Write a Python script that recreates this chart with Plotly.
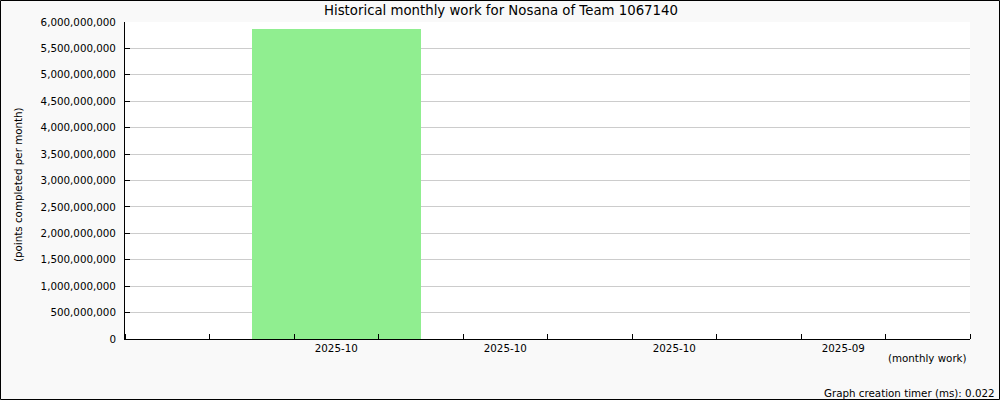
import plotly.graph_objects as go

months = ["2025-10", "2025-10", "2025-10", "2025-09"]
points = [5860000000, 0, 0, 0]
y_ticks = list(range(0, 6000000001, 500000000))

positions = list(range(len(months)))

fig = go.Figure()
fig.add_trace(go.Bar(
    x=positions, y=points, width=1.0,
    marker=dict(color="#90ee90", line=dict(width=0)),
    hoverinfo="skip",
))

W, H = 1000, 400
ml, mr, mt, mb = 125, 30, 22, 61
FS = 10.3

fig.update_layout(
    width=W, height=H,
    margin=dict(l=ml, r=mr, t=mt, b=mb, pad=0),
    paper_bgcolor="#f9f9f9",
    plot_bgcolor="#ffffff",
    showlegend=False,
    font=dict(family="DejaVu Sans", size=FS, color="#000000"),
    bargap=0,
    xaxis=dict(
        range=[-1.25, 3.75],
        tickmode="array",
        tickvals=positions,
        ticktext=months,
        ticks="",
        showgrid=False,
        zeroline=False,
        showline=True, linecolor="#000000", linewidth=1,
        minor=dict(ticks="inside", tick0=0.25, dtick=0.5, ticklen=5,
                   tickcolor="#000000", showgrid=False),
        fixedrange=True,
    ),
    yaxis=dict(
        range=[0, 6000000000],
        tickmode="array",
        tickvals=y_ticks,
        ticktext=[f"{v:,}" for v in y_ticks],
        ticks="inside", ticklen=5, tickcolor="#000000",
        showgrid=True, gridcolor="#cccccc", gridwidth=1,
        zeroline=False,
        showline=True, linecolor="#000000", linewidth=1,
        ticklabelstandoff=6,
        fixedrange=True,
    ),
)

pw = W - ml - mr
ph = H - mt - mb
def px_x(p):
    return (p - ml) / pw
def px_y(p):
    return (H - mb - p) / ph

fig.add_annotation(text="Historical monthly work for Nosana of Team 1067140",
                   xref="paper", yref="paper", x=px_x(501), y=px_y(10),
                   showarrow=False, xanchor="center", yanchor="middle",
                   font=dict(size=13.3))
fig.add_annotation(text="(points completed per month)",
                   xref="paper", yref="paper", x=px_x(18), y=px_y(185),
                   showarrow=False, textangle=-90, xanchor="center", yanchor="middle",
                   font=dict(size=FS))
fig.add_annotation(text="(monthly work)",
                   xref="paper", yref="paper", x=px_x(969), y=px_y(358),
                   showarrow=False, xanchor="right", yanchor="middle",
                   font=dict(size=FS))
fig.add_annotation(text="Graph creation timer (ms): 0.022",
                   xref="paper", yref="paper", x=px_x(997), y=px_y(393),
                   showarrow=False, xanchor="right", yanchor="middle",
                   font=dict(size=FS))
fig.add_shape(type="rect", xref="paper", yref="paper",
              x0=px_x(0.5), x1=px_x(999.5), y0=px_y(399.5), y1=px_y(0.5),
              line=dict(color="#000000", width=1), fillcolor="rgba(0,0,0,0)")

fig.write_html("out.html",
               config={"displayModeBar": False},
               post_script="document.body.style.margin='0';document.body.style.overflow='hidden';")
